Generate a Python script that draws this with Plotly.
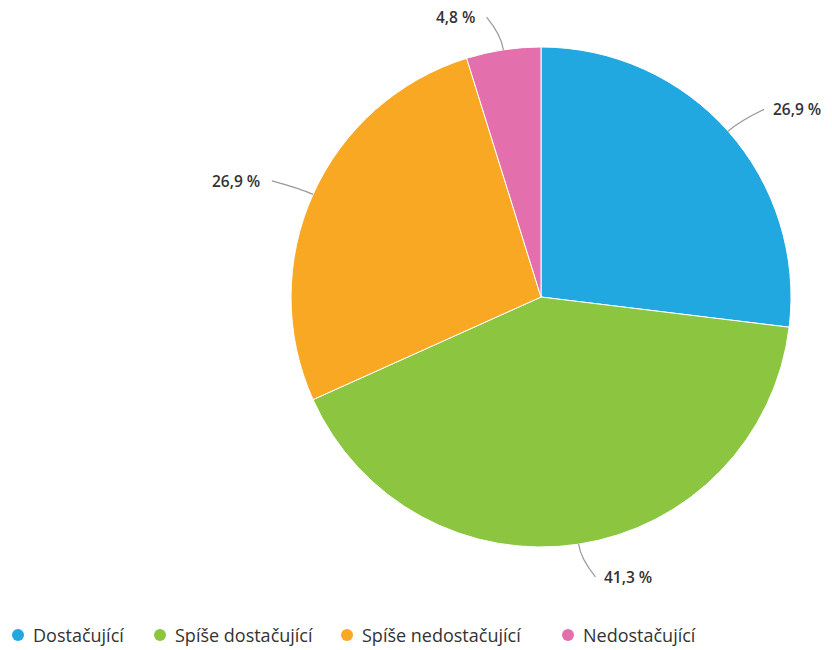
import math
import plotly.graph_objects as go

categories = ["Dostačující", "Spíše dostačující", "Spíše nedostačující", "Nedostačující"]
values = [26.9, 41.3, 26.9, 4.8]
label_texts = ["26,9 %", "41,3 %", "26,9 %", "4,8 %"]
colors = ["#22a8e0", "#8cc641", "#f9a823", "#e36fad"]

W, H = 832, 650
CX, CY, R = 541, 297, 250
FONT = "Open Sans, Noto Sans, sans-serif"

fig = go.Figure()
fig.add_trace(go.Pie(
    labels=categories, values=values, sort=False, direction="clockwise",
    rotation=0, textinfo="none", hoverinfo="label+percent",
    marker=dict(colors=colors, line=dict(color="white", width=1)),
    domain=dict(x=[(CX - R) / W, (CX + R) / W], y=[1 - (CY + R) / H, 1 - (CY - R) / H]),
    showlegend=False,
))

def px(x):
    return x / W

def py(y):
    return 1 - y / H

shapes = []
annotations = []
total = sum(values)
cum = 0.0
for v, t in zip(values, label_texts):
    mid = (cum + v / 2) / total * 2 * math.pi
    cum += v
    s, c = math.sin(mid), math.cos(mid)
    ex, ey = CX + R * s, CY - R * c
    bx, by = CX + (R + 15) * s, CY - (R + 15) * c
    ly = CY - (R + 33) * c
    side = 1 if s >= 0 else -1
    tx = CX + (R + 32) * s + 12 * side
    path = f"M {px(ex)},{py(ey)} Q {px(bx)},{py(by)} {px(tx)},{py(ly)}"
    shapes.append(dict(type="path", path=path, xref="paper", yref="paper",
                       line=dict(color="#999999", width=1.2)))
    annotations.append(dict(text=t, x=px(tx + (7 if side > 0 else -10) ), y=py(ly),
                            xref="paper", yref="paper",
                            xanchor="left" if side > 0 else "right", yanchor="middle",
                            showarrow=False,
                            font=dict(family=FONT, size=15.5, color="#333333", weight=600)))

# legend (manual, circle markers)
legend_x = [18, 160, 347, 568]
LEG_Y = 635
for name, col, lx in zip(categories, colors, legend_x):
    shapes.append(dict(type="circle", xref="paper", yref="paper",
                       x0=px(lx - 6), x1=px(lx + 6), y0=py(LEG_Y + 6), y1=py(LEG_Y - 6),
                       fillcolor=col, line=dict(width=0)))
    annotations.append(dict(text=name, x=px(lx + 13), y=py(LEG_Y), xref="paper", yref="paper",
                            xanchor="left", yanchor="middle", showarrow=False,
                            font=dict(family=FONT, size=18, color="#333333")))

fig.update_layout(
    width=W, height=H, margin=dict(l=0, r=0, t=0, b=0),
    paper_bgcolor="white", plot_bgcolor="white",
    shapes=shapes, annotations=annotations,
)
fig.write_html("out.html", config={"displayModeBar": False},
               post_script="document.body.style.margin='0';")
